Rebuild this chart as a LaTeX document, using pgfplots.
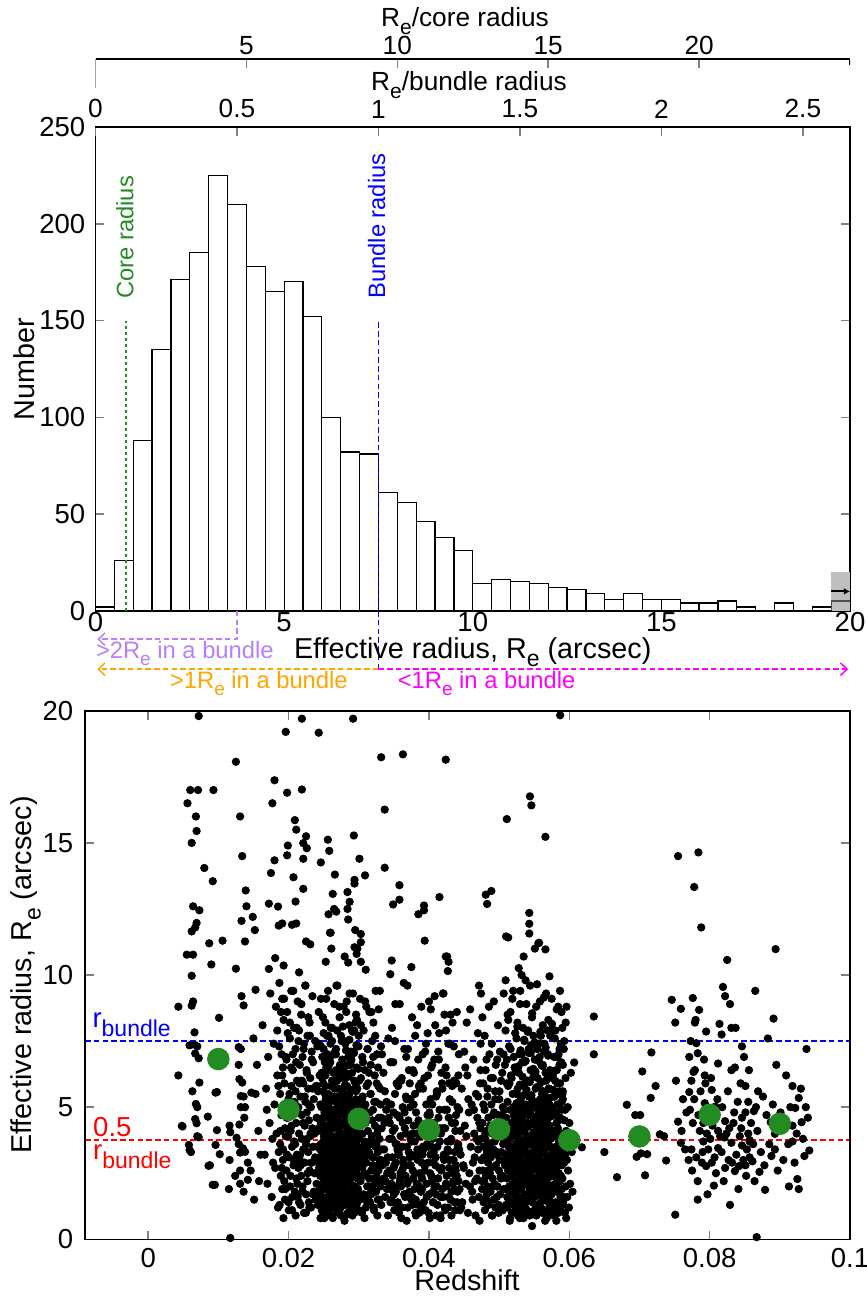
\documentclass[border=0pt]{standalone}
\usepackage{pgfplots}
\pgfplotsset{compat=1.18}
\usepackage{fontspec}
\setmainfont{Liberation Sans}
\usepackage{graphicx}
\usetikzlibrary{arrows.meta}

\definecolor{coregreen}{RGB}{34,139,34}
\definecolor{lilac}{RGB}{180,128,255}
\definecolor{orng}{RGB}{255,165,0}
\definecolor{mgnt}{RGB}{255,0,255}
\definecolor{pblue}{RGB}{0,0,255}
\definecolor{pred}{RGB}{255,0,0}
\newcommand{\fs}[1]{\fontsize{#1}{#1}\selectfont}
\newcommand{\sub}[1]{\raisebox{-0.3em}{\scalebox{0.8}{#1}}}

\tikzset{dsh/.style={line width=0.6pt, dash pattern=on 2.2pt off 1.3pt}}
\pgfplotsset{
  gp/.style={
    scale only axis,
    tick align=inside,
    major tick length=3.5pt,
    axis line style={line width=0.6pt},
    major tick style={line width=0.6pt},
    /pgf/number format/assume math mode=true,
    tick label style={font=\fs{11}},
  },
  gal/.style={only marks, mark=*, mark size=1.45pt, black},
}

\begin{document}
\begin{tikzpicture}[x=1pt,y=1pt]
\useasboundingbox (0pt,0pt) rectangle (346.8pt,-518.4pt);

% ---------------- histogram ----------------
\begin{axis}[gp,
  at={(38.2pt,-244.3pt)}, anchor=south west,
  width=301.8pt, height=193.5pt,
  xmin=0, xmax=20, ymin=0, ymax=250,
  xtick={0,5,10,15,20}, ytick={0,50,100,150,200,250},
  xtick pos=bottom,
  xticklabel style={yshift=2.9pt},
  yticklabel style={xshift=-0.6pt},
  clip=false,
]
\addplot[ybar interval, fill=white, draw=black, line width=0.5pt] coordinates {
  (0,2) (0.5,26) (1,88) (1.5,135) (2,171) (2.5,185) (3,225) (3.5,210)
  (4,178) (4.5,165) (5,170) (5.5,152) (6,100) (6.5,82) (7,81) (7.5,61)
  (8,56) (8.5,46) (9,38) (9.5,31) (10,14) (10.5,16) (11,15) (11.5,14)
  (12,12) (12.5,11) (13,9) (13.5,6) (14,9) (14.5,6) (15,6) (15.5,4)
  (16,4) (16.5,5) (17,2) (17.5,0) (18,4) (18.5,0) (19,2) (19.5,5) (20,5)
};
% overflow bin
\addplot[fill=black!25, draw=none] coordinates {(19.5,20) (20,20)} \closedcycle;
\addplot[draw=black!70, line width=0.5pt] coordinates {(19.5,0) (19.5,5) (20,5)};
\addplot[black, line width=0.8pt, -{Latex[length=2.5pt,width=2.8pt]}] coordinates {(19.5,10) (20,10)};

\addplot[coregreen, line width=0.75pt, dash pattern=on 1pt off 1.4pt] coordinates {(0.8,0) (0.8,150)};
\addplot[pblue, dsh] coordinates {(7.5,-30.2) (7.5,150)};
\node[rotate=90, anchor=west, inner sep=0pt, coregreen, font=\fs{9.5}] at (axis cs:0.78,161) {Core radius};
\node[rotate=90, anchor=west, inner sep=0pt, pblue, font=\fs{9.5}] at (axis cs:7.45,161) {Bundle radius};

\draw[lilac, dsh, -{Straight Barb[length=2.6pt,width=5pt]}] (axis cs:3.75,0) -- (axis cs:3.75,-14.7) -- (axis cs:0.05,-14.7);
\draw[orng, dsh, -{Straight Barb[length=2.6pt,width=5pt]}] (axis cs:7.5,-30.2) -- (axis cs:0.05,-30.2);
\draw[mgnt, dsh, -{Straight Barb[length=2.6pt,width=5pt]}] (axis cs:7.5,-30.2) -- (axis cs:19.95,-30.2);
\node[lilac, anchor=base west, inner sep=0pt, font=\fs{9.5}] at (axis cs:0,-24.6) {>2R\sub{e} in a bundle};
\node[anchor=base, inner sep=0pt, font=\fs{11.5}] at (axis cs:10,-24.6) {Effective radius, R\sub{e} (arcsec)};
\node[orng, anchor=base, inner sep=0pt, font=\fs{9.5}] at (axis cs:4.33,-40.1) {>1R\sub{e} in a bundle};
\node[mgnt, anchor=base west, inner sep=0pt, font=\fs{9.5}] at (axis cs:8.0,-40.1) {<1R\sub{e} in a bundle};
\end{axis}

% R_e / bundle radius axis
\begin{axis}[gp,
  at={(38.2pt,-244.3pt)}, anchor=south west,
  width=301.8pt, height=193.5pt,
  xmin=0, xmax=2.666667, ymin=0, ymax=1,
  axis x line*=top, axis y line=none,
  xtick={0,0.5,1,1.5,2,2.5},
  tick label style={font=\fs{10.5}},
]
\addplot[draw=none] coordinates {(1,0.5)};
\end{axis}

% R_e / core radius axis
\begin{axis}[gp,
  at={(38.2pt,-23.6pt)}, anchor=north west,
  width=301.8pt, height=12pt,
  xmin=0, xmax=25, ymin=0, ymax=1,
  axis x line*=top, axis y line=none,
  xtick={5,10,15,20},
  tick label style={font=\fs{10.5}},
  xticklabel style={yshift=-1.8pt},
]
\addplot[draw=none] coordinates {(1,0.5)};
\draw[line width=0.6pt] (rel axis cs:0,1) -- ++(0pt,-11.6pt);
\draw[line width=0.6pt] (rel axis cs:1,1) -- ++(0pt,-2.5pt);
\end{axis}

\node[anchor=base, font=\fs{10.5}] at (186pt,-10.7pt) {R\sub{e}/core radius};
\node[anchor=base, font=\fs{10.5}] at (187.6pt,-36.3pt) {R\sub{e}/bundle radius};
\node[rotate=90, anchor=base, font=\fs{11.5}] at (13.8pt,-147.6pt) {Number};

% ---------------- scatter ----------------
\begin{axis}[gp,
  at={(34pt,-495.7pt)}, anchor=south west,
  width=306pt, height=211.4pt,
  xmin=-0.009, xmax=0.1, ymin=0, ymax=20,
  xtick={0,0.02,0.04,0.06,0.08,0.1}, ytick={0,5,10,15,20},
  scaled x ticks=false,
  xticklabel style={/pgf/number format/fixed, /pgf/number format/precision=2},
  yticklabel style={xshift=-1.2pt},
  axis on top,
]
% galaxies above 10 arcsec
\addplot[gal] coordinates {
(0.0072,19.8)(0.0056,16.5)(0.0060,17.0)(0.0071,17.0)(0.0093,17.0)(0.0068,16.0)(0.0069,15.45)(0.0062,15.0)
(0.0080,14.05)(0.0092,13.55)(0.0064,12.6)(0.0073,12.45)(0.0069,11.97)(0.0067,11.8)(0.0062,11.65)(0.0087,11.2)
(0.0106,11.3)(0.0055,10.77)(0.0064,10.77)(0.0090,10.4)(0.0125,18.07)(0.0131,16.0)(0.0134,14.5)(0.0139,13.2)
(0.0140,12.6)(0.0133,12.05)(0.0149,12.2)(0.0138,11.27)(0.0152,11.7)(0.0125,10.24)(0.0172,12.7)(0.0180,17.37)
(0.0177,16.5)(0.0175,13.86)(0.0180,14.34)(0.0185,12.59)(0.0186,11.87)(0.0191,11.95)(0.0181,10.64)(0.0193,10.36)
(0.0172,10.23)(0.0196,19.2)(0.0198,16.9)(0.0198,14.53)(0.0199,14.9)(0.0207,13.7)(0.0209,15.86)(0.0211,15.5)
(0.0210,12.78)(0.0205,11.9)(0.0211,11.95)(0.0215,10.1)(0.0219,19.7)(0.0219,17.02)(0.0225,15.25)(0.0221,14.99)
(0.0226,14.8)(0.0221,14.4)(0.0221,13.26)(0.0225,11.27)(0.0231,11.16)(0.0243,19.17)(0.0246,14.26)(0.0256,15.12)
(0.0258,14.7)(0.0266,13.8)(0.0263,13.07)(0.0265,12.5)(0.0268,12.4)(0.0257,12.3)(0.0259,11.6)(0.0260,11.6)
(0.0261,11.0)(0.0253,10.5)(0.0292,19.7)(0.0293,15.28)(0.0284,13.14)(0.0287,12.77)(0.0284,12.5)(0.0285,12.1)
(0.0294,13.6)(0.0294,13.46)(0.0309,13.77)(0.0301,14.4)(0.0295,11.7)(0.0303,11.55)(0.0303,11.24)(0.0294,11.05)
(0.0298,11.0)(0.0297,10.8)(0.0303,10.5)(0.0285,10.47)(0.0280,10.7)(0.0310,10.2)(0.0332,18.24)(0.0337,16.26)
(0.0337,14.06)(0.0358,13.4)(0.0358,12.85)(0.0349,12.67)(0.0347,10.55)(0.0345,10.03)(0.0363,18.35)(0.0375,10.3)
(0.0385,12.3)(0.0393,12.63)(0.0393,12.45)(0.0394,11.3)(0.0424,18.15)(0.0415,12.95)(0.0424,10.7)(0.0587,19.83)
(0.0544,16.76)(0.0546,16.42)(0.0511,15.9)(0.0566,15.23)(0.0755,14.5)(0.0784,14.64)(0.0778,13.33)(0.0788,11.8)
(0.0894,10.98)(0.0825,10.57)(0.0481,13.04)(0.0489,13.18)(0.0483,12.69)(0.0543,12.35)(0.0543,11.94)(0.0543,11.57)
(0.0510,11.46)(0.0513,11.42)(0.0556,11.2)(0.0557,11.22)(0.0551,11.0)(0.0566,10.97)(0.0535,10.7)(0.0426,10.7)
(0.0428,10.5)(0.0427,10.15)(0.0528,10.26)(0.0532,10.0)
};
% low redshift, sparse
\addplot[gal] coordinates {
(0.0043,8.8)(0.0043,6.2)(0.0049,4.27)(0.0061,3.3)(0.0088,2.8)(0.0095,2.06)(0.0117,0.05)(0.0115,1.9)
(0.0062,9.97)(0.0062,8.84)(0.0064,9.0)(0.0101,8.38)(0.0153,9.44)(0.0133,9.2)(0.0136,8.85)(0.0066,7.83)
(0.0059,7.34)(0.0066,7.36)(0.0070,7.3)(0.0067,7.03)(0.0072,6.85)(0.0129,7.27)(0.0132,7.2)(0.0129,6.6)
(0.0073,5.93)(0.0096,5.55)(0.0098,5.57)(0.0130,6.06)(0.0134,5.93)(0.0068,5.12)(0.0070,5.0)(0.0147,5.55)
(0.0153,5.5)(0.0132,5.42)(0.0136,5.4)(0.0132,5.0)(0.0138,5.0)(0.0085,4.64)(0.0048,4.29)(0.0067,4.55)
(0.0069,4.39)(0.0070,3.9)(0.0072,3.86)(0.0098,4.13)(0.0116,4.3)(0.0117,4.05)(0.0130,4.34)(0.0137,4.6)
(0.0058,3.57)(0.0059,3.38)(0.0096,3.57)(0.0102,3.22)(0.0116,3.0)(0.0131,3.28)(0.0135,3.44)(0.0138,3.31)
(0.0086,2.78)(0.0142,2.9)(0.0146,2.6)(0.0131,2.6)(0.0092,2.06)(0.0136,1.8)(0.0131,2.1)(0.0142,2.25)
(0.0129,3.6)(0.0126,3.84)(0.0150,7.6)(0.0155,6.6)(0.0157,4.1)(0.0160,3.2)(0.0158,2.2)(0.0151,1.5)
(0.0124,2.4)(0.0063,5.6)
};
% z = 0.016 - 0.024
\addplot[gal] coordinates {
(0.0163,8.1)(0.0166,3.2)(0.0168,5.7)(0.0170,2.1)(0.0171,6.9)(0.0173,4.4)(0.0174,9.3)(0.0176,1.6)
(0.0177,3.8)(0.0179,7.4)(0.0180,5.1)(0.0181,2.7)(0.0182,8.8)(0.0183,4.0)(0.0184,6.2)(0.0185,1.2)
(0.0186,3.3)(0.0187,9.7)(0.0188,5.5)(0.0189,2.4)(0.0190,7.0)(0.0190,4.7)(0.0191,1.9)(0.0192,6.5)
(0.0192,3.0)(0.0193,8.3)(0.0194,2.2)(0.0194,5.9)(0.0195,4.2)(0.0195,1.5)(0.0178,2.9)(0.0169,4.9)
(0.0184,7.9)(0.0188,3.6)(0.0191,9.1)
(0.0196,3.9)(0.0197,6.8)(0.0197,2.6)(0.0198,8.6)(0.0199,4.6)(0.0200,1.4)(0.0200,5.3)(0.0201,3.1)
(0.0202,7.6)(0.0202,2.0)(0.0203,4.1)(0.0204,9.4)(0.0204,5.8)(0.0205,3.5)(0.0205,1.1)(0.0206,6.4)
(0.0207,2.8)(0.0207,4.9)(0.0208,8.0)(0.0208,3.7)(0.0209,1.8)(0.0210,5.6)(0.0210,7.2)(0.0211,2.3)
(0.0211,4.4)(0.0212,6.0)(0.0212,3.2)(0.0213,9.0)(0.0213,1.6)(0.0214,5.0)(0.0214,2.7)(0.0215,7.9)
(0.0215,4.0)(0.0216,3.0)(0.0216,6.6)(0.0217,1.3)(0.0217,5.4)(0.0218,2.4)(0.0218,8.5)(0.0219,3.8)
(0.0219,4.7)(0.0220,6.9)(0.0220,2.0)(0.0221,5.9)(0.0221,3.4)(0.0222,1.0)(0.0222,7.4)(0.0223,4.3)
(0.0223,2.9)(0.0224,5.2)(0.0224,9.6)(0.0225,3.6)(0.0225,1.7)(0.0226,6.3)(0.0226,4.8)(0.0227,2.2)
(0.0227,7.7)(0.0228,3.3)(0.0228,5.7)(0.0229,1.4)(0.0229,4.5)(0.0230,8.2)(0.0230,2.6)(0.0231,6.1)
(0.0231,3.9)(0.0232,5.0)(0.0232,1.2)(0.0233,7.1)(0.0233,2.9)(0.0234,4.2)(0.0234,9.2)(0.0235,3.5)
(0.0235,6.7)(0.0236,1.8)(0.0236,5.3)(0.0237,2.5)(0.0237,4.0)(0.0238,7.5)(0.0238,3.1)(0.0239,5.8)
(0.0239,1.5)(0.0240,4.6)(0.0240,2.1)
(0.01855,5.8)(0.01866,7.3)(0.01873,1.3)(0.01884,4.1)(0.01892,8.6)(0.01903,2.7)(0.01911,6.2)(0.01922,3.4)
(0.01928,0.8)(0.01937,9.1)(0.01946,5.0)(0.01954,1.9)(0.01961,6.9)(0.01972,4.6)(0.01979,3.2)(0.01988,7.8)
(0.01996,3.9)(0.02004,1.1)(0.02013,5.5)(0.02019,8.2)(0.02027,2.4)(0.02036,6.5)(0.02044,4.3)(0.02052,1.6)
(0.02061,7.0)(0.02068,9.4)(0.02077,3.0)(0.02085,5.2)(0.02094,3.6)(0.02101,0.9)(0.02109,6.7)(0.02118,8.0)
(0.02126,2.1)(0.02134,4.8)(0.02142,7.5)(0.02149,1.4)(0.02158,5.9)(0.02166,3.2)(0.02174,2.8)(0.02183,8.9)
(0.02191,6.0)(0.02198,1.8)(0.02207,4.4)(0.02215,7.2)(0.02223,3.4)(0.02231,5.4)(0.02239,9.6)(0.02247,1.0)
(0.02256,6.4)(0.02263,3.8)(0.02272,2.5)(0.02281,8.4)(0.02288,5.1)(0.02297,1.2)(0.02305,7.7)(0.02314,4.0)
(0.02322,2.9)(0.02331,6.8)(0.02339,5.7)(0.02347,1.7)
};
% z = 0.024 - 0.0335
\addplot[gal] coordinates {
(0.02411,3.5)(0.02416,1.8)(0.02421,5.6)(0.02426,2.9)(0.02431,4.2)(0.02436,7.4)(0.02441,1.3)(0.02446,3.1)
(0.02450,2.4)(0.02453,5.1)(0.02457,1.7)(0.02455,3.0)(0.02460,3.6)(0.02463,7.3)(0.02467,2.9)(0.02465,1.9)
(0.02470,4.5)(0.02473,1.1)(0.02477,3.2)(0.02475,4.4)(0.02480,6.1)(0.02483,2.0)(0.02487,4.1)(0.02485,2.6)
(0.02490,8.4)(0.02493,3.0)(0.02497,1.5)(0.02495,5.9)(0.02500,5.6)(0.02503,2.6)(0.02507,3.9)(0.02505,1.4)
(0.02510,0.8)(0.02513,4.8)(0.02517,6.7)(0.02515,3.5)(0.02520,2.2)(0.02523,3.4)(0.02527,1.9)(0.02525,6.2)
(0.02530,5.3)(0.02533,2.7)(0.02537,9.1)(0.02535,4.9)(0.02540,4.3)(0.02543,1.3)(0.02547,3.7)(0.02545,1.1)
(0.02550,2.1)(0.02553,6.4)(0.02557,3.1)(0.02555,3.8)(0.02560,4.6)(0.02563,1.6)(0.02567,2.8)(0.02565,6.4)
(0.02570,7.7)(0.02573,3.5)(0.02577,5.0)(0.02575,2.4)(0.02580,1.0)(0.02583,2.5)(0.02587,4.0)(0.02585,1.9)
(0.02590,3.3)(0.02593,6.9)(0.02597,1.8)(0.02595,4.7)(0.02600,2.3)(0.02603,5.8)(0.02607,3.8)(0.02605,3.3)
(0.02610,0.9)(0.02613,4.4)(0.02617,2.9)(0.02615,5.4)(0.02620,8.0)(0.02623,3.0)(0.02627,1.4)(0.02625,2.0)
(0.02630,5.4)(0.02633,2.4)(0.02637,4.2)(0.02635,2.9)(0.02640,6.3)(0.02643,1.2)(0.02647,3.6)(0.02645,4.6)
(0.02650,2.7)(0.02653,4.9)(0.02657,1.7)(0.02655,1.3)(0.02660,3.2)(0.02663,7.1)(0.02667,2.0)(0.02665,3.6)
(0.02670,5.2)(0.02673,3.9)(0.02677,1.5)(0.02675,7.0)(0.02680,4.7)(0.02683,9.6)(0.02687,2.6)(0.02685,1.2)
(0.02690,3.4)(0.02693,6.0)(0.02697,1.9)(0.02695,4.3)(0.02700,2.2)(0.02703,4.5)(0.02707,3.1)(0.02705,1.8)
(0.02710,5.7)(0.02713,1.1)(0.02717,3.5)(0.02715,2.5)(0.02720,2.8)(0.02723,8.8)(0.02727,4.1)(0.02725,5.1)
(0.02730,1.6)(0.02733,6.6)(0.02737,2.3)(0.02735,3.9)(0.02740,3.7)(0.02743,5.0)(0.02747,1.3)(0.02745,0.9)
(0.02750,4.3)(0.02753,2.5)(0.02757,7.5)(0.02755,1.6)(0.02760,3.0)(0.02763,1.8)(0.02767,4.8)(0.02765,2.3)
(0.02770,2.1)(0.02773,5.5)(0.02777,3.3)(0.02775,6.1)(0.02780,6.2)(0.02783,2.6)(0.02787,5.3)(0.02785,3.4)
(0.02790,1.9)(0.02793,3.8)(0.02797,7.5)(0.02795,1.5)(0.02800,3.1)(0.02803,4.7)(0.02807,1.3)(0.02805,2.4)
(0.02810,3.4)(0.02813,6.3)(0.02817,2.2)(0.02815,5.2)(0.02820,4.3)(0.02823,8.6)(0.02827,3.2)(0.02825,1.8)
(0.02830,1.7)(0.02833,5.8)(0.02837,2.8)(0.02835,4.2)(0.02840,4.1)(0.02843,1.0)(0.02847,5.0)(0.02845,3.0)
(0.02850,6.9)(0.02853,2.4)(0.02857,3.6)(0.02855,1.5)(0.02860,2.1)(0.02863,5.5)(0.02867,2.9)(0.02865,4.2)
(0.02870,9.3)(0.02873,4.5)(0.02877,1.5)(0.02875,3.2)(0.02880,3.9)(0.02883,2.3)(0.02887,6.6)(0.02885,1.2)
(0.02890,3.3)(0.02893,4.8)(0.02897,1.8)(0.02895,6.8)(0.02900,3.0)(0.02903,7.9)(0.02907,3.7)(0.02905,2.0)
(0.02910,5.2)(0.02913,1.2)(0.02917,2.7)(0.02915,3.9)(0.02920,4.2)(0.02923,3.5)(0.02927,7.1)(0.02925,1.4)
(0.02930,2.0)(0.02933,2.5)(0.02937,6.0)(0.02935,4.3)(0.02940,4.0)(0.02943,1.1)(0.02947,4.6)(0.02945,3.0)
(0.02950,3.1)(0.02953,8.2)(0.02957,5.3)(0.02955,1.7)(0.02960,1.6)(0.02963,5.6)(0.02967,2.6)(0.02965,4.1)
(0.02970,4.4)(0.02973,6.5)(0.02977,1.4)(0.02975,2.9)(0.02980,3.8)(0.02983,2.9)(0.02987,5.1)(0.02985,1.9)
(0.02990,1.9)(0.02993,3.4)(0.02997,7.3)(0.02995,4.6)
(0.03001,2.4)(0.03006,6.0)(0.03011,3.8)(0.03016,1.5)(0.03021,4.7)(0.03026,2.2)(0.03031,8.1)(0.03036,3.3)
(0.03041,5.3)(0.03046,1.0)(0.03051,2.7)(0.03056,4.0)(0.03061,6.7)(0.03066,3.0)(0.03071,1.7)(0.03076,5.0)
(0.03081,2.5)(0.03086,3.7)(0.03091,9.0)(0.03096,4.4)(0.03101,1.2)(0.03106,2.9)(0.03111,5.8)(0.03116,3.4)
(0.03121,2.0)(0.03126,7.2)(0.03131,4.1)(0.03136,1.6)(0.03141,3.2)(0.03146,6.3)(0.03151,2.3)(0.03156,4.8)
(0.03161,1.4)(0.03166,3.6)(0.03171,5.5)(0.03176,2.6)(0.03181,8.6)(0.03186,3.9)(0.03191,1.9)(0.03196,4.5)
(0.03201,2.8)(0.03206,6.9)(0.03211,3.1)(0.03216,1.1)(0.03221,5.2)(0.03226,2.1)(0.03231,4.3)(0.03236,7.7)
(0.03241,3.5)(0.03246,1.8)(0.03251,2.4)(0.03256,5.9)(0.03261,4.0)(0.03266,0.9)(0.03271,3.3)(0.03276,6.5)
(0.03281,2.6)(0.03286,4.6)(0.03291,1.5)(0.03296,3.8)(0.03301,9.4)(0.03306,2.2)(0.03311,5.1)(0.03316,3.0)
(0.03321,1.3)(0.03326,4.2)(0.03331,7.0)(0.03336,2.8)
(0.02405,5.8)(0.02411,7.3)(0.02417,1.3)(0.02424,4.1)(0.02430,8.6)(0.02436,2.7)(0.02443,6.2)(0.02449,3.4)
(0.02455,0.8)(0.02462,9.1)(0.02468,5.0)(0.02474,1.9)(0.02481,6.9)(0.02487,4.6)(0.02493,3.2)(0.02500,7.8)
(0.02506,3.9)(0.02512,1.1)(0.02519,5.5)(0.02525,8.2)(0.02531,2.4)(0.02538,6.5)(0.02544,4.3)(0.02550,1.6)
(0.02557,7.0)(0.02563,9.4)(0.02569,3.0)(0.02576,5.2)(0.02582,3.6)(0.02588,0.9)(0.02595,6.7)(0.02601,8.0)
(0.02607,2.1)(0.02614,4.8)(0.02620,7.5)(0.02626,1.4)(0.02633,5.9)(0.02639,3.2)(0.02645,2.8)(0.02652,8.9)
(0.02658,6.0)(0.02664,1.8)(0.02671,4.4)(0.02677,7.2)(0.02683,3.4)(0.02690,5.4)(0.02696,9.6)(0.02702,1.0)
(0.02709,6.4)(0.02715,3.8)(0.02721,2.5)(0.02728,8.4)(0.02734,5.1)(0.02740,1.2)(0.02747,7.7)(0.02753,4.0)
(0.02759,2.9)(0.02766,6.8)(0.02772,5.7)(0.02778,1.7)(0.02785,8.8)(0.02791,3.5)(0.02797,0.7)(0.02804,6.1)
(0.02810,7.4)(0.02816,2.2)(0.02823,4.7)(0.02829,9.0)(0.02835,3.1)(0.02842,5.3)(0.02848,6.6)(0.02854,1.5)
(0.02861,3.3)(0.02867,8.1)(0.02873,2.6)(0.02880,5.6)(0.02886,7.1)(0.02892,1.9)(0.02899,4.2)(0.02905,6.3)
(0.02911,0.9)(0.02918,9.3)(0.02924,4.9)(0.02930,3.3)(0.02937,7.9)(0.02943,3.7)(0.02949,2.0)(0.02956,5.9)
(0.02962,8.5)(0.02968,1.3)(0.02975,8.3)(0.02981,5.7)(0.02987,2.3)(0.02994,3.5)(0.03000,7.7)(0.03006,1.1)
(0.03013,4.7)(0.03019,9.1)(0.03025,2.8)(0.03032,6.1)(0.03038,4.0)(0.03044,1.6)(0.03051,6.9)(0.03057,5.4)
(0.03063,3.5)(0.03070,7.9)(0.03076,3.1)(0.03082,0.8)(0.03089,6.4)(0.03095,5.1)(0.03101,2.4)(0.03108,8.8)
(0.03114,4.5)(0.03120,1.4)(0.03127,7.2)(0.03133,5.9)(0.03139,2.0)(0.03146,3.3)(0.03152,8.6)(0.03158,1.7)
(0.03165,5.5)(0.03171,6.6)(0.03177,1.7)(0.03184,3.8)(0.03190,7.5)(0.03196,3.1)(0.03203,4.9)(0.03209,8.2)
(0.03215,1.2)(0.03222,3.6)(0.03228,6.2)(0.03234,2.3)(0.03241,9.4)(0.03247,5.2)(0.03253,3.6)(0.03260,7.0)
(0.03266,4.2)(0.03272,1.5)(0.03279,5.8)(0.03285,8.7)(0.03291,2.8)(0.03298,3.0)(0.03304,5.7)(0.03310,2.0)
(0.03317,7.3)(0.03323,4.6)(0.03329,3.4)
(0.02461,4.4)(0.02466,1.6)(0.02472,6.3)(0.02477,2.9)(0.02483,5.1)(0.02488,0.9)(0.02494,3.7)(0.02499,7.2)
(0.02505,2.2)(0.02510,4.9)(0.02516,1.3)(0.02521,5.8)(0.02527,3.1)(0.02532,6.9)(0.02538,2.5)(0.02543,4.1)
(0.02549,7.7)(0.02554,1.9)(0.02560,3.4)(0.02565,5.5)(0.02571,1.0)(0.02576,6.6)(0.02582,2.7)(0.02587,4.6)
(0.02593,3.9)(0.02598,7.4)(0.02604,1.5)(0.02609,5.3)(0.02615,2.3)(0.02620,6.0)(0.02626,3.5)(0.02631,0.8)
(0.02637,4.8)(0.02642,2.0)(0.02648,7.0)(0.02653,3.0)(0.02659,5.7)(0.02664,1.2)(0.02670,4.3)(0.02675,6.4)
(0.02681,2.6)(0.02686,3.8)(0.02692,7.9)(0.02697,1.7)(0.02703,5.0)(0.02708,2.4)(0.02714,6.2)(0.02719,3.3)
(0.02725,1.1)(0.02730,4.7)(0.02736,4.85)(0.02741,1.25)(0.02747,3.45)(0.02752,6.35)(0.02758,2.55)(0.02763,5.15)
(0.02769,1.85)(0.02774,8.05)(0.02780,3.95)(0.02785,2.75)(0.02791,6.55)(0.02796,4.45)(0.02802,1.35)(0.02807,5.85)
(0.02813,3.15)(0.02818,7.15)(0.02824,2.15)(0.02829,4.95)(0.02835,0.95)(0.02840,3.65)(0.02846,6.15)(0.02851,2.45)
(0.02857,5.45)(0.02862,1.65)(0.02868,7.55)(0.02873,4.05)(0.02879,4.75)(0.02884,2.85)(0.02890,6.75)(0.02895,1.15)
(0.02901,5.65)(0.02906,3.55)(0.02912,2.05)(0.02917,7.85)(0.02923,4.25)(0.02928,2.65)(0.02934,7.05)(0.02939,3.25)
(0.02945,5.95)(0.02950,1.45)(0.02956,5.05)(0.02961,2.35)(0.02967,7.35)(0.02972,3.85)(0.02978,1.05)(0.02983,5.25)
(0.02989,3.05)(0.02994,6.45)(0.03000,1.75)(0.03005,4.55)
};
% z = 0.0335 - 0.0445
\addplot[gal] coordinates {
(0.03352,6.3)(0.03357,2.3)(0.03362,3.4)(0.03367,4.4)(0.03372,5.6)(0.03377,1.6)(0.03382,2.2)(0.03387,2.9)
(0.03392,4.9)(0.03397,5.2)(0.03402,1.9)(0.03407,2.5)(0.03412,3.1)(0.03417,0.9)(0.03422,7.6)(0.03427,4.6)
(0.03432,2.6)(0.03437,3.8)(0.03442,4.4)(0.03447,1.9)(0.03452,1.4)(0.03457,6.7)(0.03462,5.1)(0.03467,1.5)
(0.03472,3.8)(0.03477,3.1)(0.03482,2.4)(0.03487,4.1)(0.03492,6.7)(0.03497,2.7)(0.03502,1.7)(0.03507,1.1)
(0.03512,4.2)(0.03517,5.5)(0.03522,8.9)(0.03527,3.6)(0.03532,2.9)(0.03537,2.0)(0.03542,3.6)(0.03547,4.7)
(0.03552,1.2)(0.03557,1.4)(0.03562,5.8)(0.03567,3.3)(0.03572,3.2)(0.03577,6.0)(0.03582,4.6)(0.03587,2.2)
(0.03592,2.3)(0.03597,3.9)(0.03602,2.0)(0.03607,0.8)(0.03612,6.1)(0.03617,2.6)(0.03622,3.5)(0.03627,5.0)
(0.03632,2.7)(0.03637,3.0)(0.03642,9.7)(0.03647,1.7)(0.03652,4.8)(0.03657,4.2)(0.03662,1.6)(0.03667,2.4)
(0.03672,4.0)(0.03677,6.9)(0.03682,5.3)(0.03687,3.5)(0.03692,2.1)(0.03697,1.2)(0.03702,7.2)(0.03707,4.5)
(0.03712,3.3)(0.03717,2.8)(0.03722,1.8)(0.03727,5.9)(0.03732,5.0)(0.03737,5.3)(0.03742,2.8)(0.03747,3.2)
(0.03752,3.7)(0.03757,1.6)(0.03762,1.3)(0.03767,4.0)(0.03772,6.4)(0.03777,2.3)(0.03782,4.3)(0.03787,6.3)
(0.03792,2.5)(0.03797,3.7)(0.03802,5.5)(0.03807,1.0)(0.03812,1.5)(0.03817,4.8)(0.03822,3.1)(0.03827,2.1)
(0.03832,8.1)(0.03837,3.4)(0.03842,3.0)(0.03847,1.3)(0.03852,4.5)(0.03857,5.8)(0.03862,1.0)(0.03867,2.5)
(0.03872,3.9)(0.03877,4.3)(0.03882,5.9)(0.03887,1.8)(0.03892,2.4)(0.03897,2.9)(0.03902,1.9)(0.03907,3.2)
(0.03912,7.0)(0.03917,5.7)(0.03922,3.4)(0.03927,1.4)(0.03932,4.1)(0.03937,2.8)(0.03942,2.6)(0.03947,7.1)
(0.03952,1.1)(0.03957,4.3)(0.03962,5.1)(0.03967,2.1)(0.03972,3.6)(0.03977,3.9)(0.03982,7.8)(0.03987,6.2)
(0.03992,2.9)(0.03997,1.0)(0.04002,1.7)(0.04007,4.8)(0.04012,4.7)(0.04017,2.5)(0.04022,3.2)(0.04027,8.7)
(0.04032,6.5)(0.04037,3.5)(0.04042,2.2)(0.04047,5.1)(0.04052,3.8)(0.04057,1.8)(0.04062,1.4)(0.04067,2.9)
(0.04072,4.4)(0.04077,6.8)(0.04082,9.2)(0.04087,4.0)(0.04092,2.8)(0.04097,3.1)(0.04102,5.4)(0.04107,0.9)
(0.04112,2.0)(0.04117,5.5)(0.04122,3.5)(0.04127,2.3)(0.04132,2.3)(0.04137,4.6)(0.04142,6.8)(0.04147,7.8)
(0.04152,4.9)(0.04157,3.7)(0.04162,0.9)(0.04167,1.6)(0.04172,4.0)(0.04177,2.6)(0.04182,2.7)(0.04187,5.9)
(0.04192,5.7)(0.04197,4.2)(0.04202,1.6)(0.04207,9.3)(0.04212,3.1)(0.04217,3.0)(0.04222,8.5)(0.04227,1.2)
(0.04232,4.2)(0.04237,6.5)(0.04242,2.1)(0.04247,2.0)(0.04252,6.2)(0.04257,4.9)(0.04262,3.3)(0.04267,3.4)
(0.04272,1.2)(0.04277,7.4)(0.04282,4.6)(0.04287,2.7)(0.04292,3.0)(0.04297,5.3)(0.04302,7.4)(0.04307,1.5)
(0.04312,3.7)(0.04317,3.8)(0.04322,1.8)(0.04327,4.4)(0.04332,5.2)(0.04337,8.2)(0.04342,2.5)(0.04347,2.2)
(0.04352,3.0)(0.04357,6.0)(0.04362,1.9)(0.04367,3.3)(0.04372,4.4)(0.04377,1.1)(0.04382,2.6)(0.04387,4.7)
(0.04392,5.9)(0.04397,2.4)(0.04402,1.4)(0.04407,5.0)(0.04412,3.5)(0.04417,3.6)(0.04422,2.2)(0.04427,7.0)
(0.04432,4.9)(0.04437,1.9)(0.04442,1.1)(0.04447,4.1)
(0.03452,6.7)(0.03463,2.1)(0.03474,8.0)(0.03485,1.4)(0.03496,4.8)(0.03507,2.8)(0.03518,7.5)(0.03529,1.8)
(0.03540,5.9)(0.03551,3.4)(0.03562,3.2)(0.03573,1.0)(0.03584,8.9)(0.03595,2.5)(0.03606,6.0)(0.03617,1.2)
(0.03628,4.4)(0.03639,2.9)(0.03650,7.2)(0.03661,1.7)(0.03672,5.4)(0.03683,0.7)(0.03694,9.6)(0.03705,2.2)
(0.03716,6.4)(0.03727,3.1)(0.03738,3.8)(0.03749,1.5)(0.03760,8.4)(0.03771,2.6)(0.03782,5.1)(0.03793,1.9)
(0.03804,7.7)(0.03815,0.9)(0.03826,4.0)(0.03837,3.3)(0.03848,6.8)(0.03859,2.0)(0.03870,5.7)(0.03881,1.3)
(0.03892,8.8)(0.03903,2.3)(0.03914,3.5)(0.03925,1.1)(0.03936,6.1)(0.03947,2.8)(0.03958,7.4)(0.03969,1.6)
(0.03980,4.7)(0.03991,3.5)(0.04002,9.0)(0.04013,0.8)(0.04024,5.3)(0.04035,2.4)(0.04046,6.6)(0.04057,1.4)
(0.04068,3.3)(0.04079,2.0)(0.04090,8.1)(0.04101,1.7)(0.04112,5.6)(0.04123,1.3)(0.04134,7.1)(0.04145,2.7)
(0.04156,4.2)(0.04167,0.8)(0.04178,6.3)(0.04189,1.9)(0.04200,9.3)(0.04211,3.2)(0.04222,4.9)(0.04233,1.1)
(0.04244,7.9)(0.04255,2.4)(0.04266,3.7)(0.04277,1.6)(0.04288,5.9)(0.04299,3.0)(0.04310,8.5)(0.04321,0.9)
(0.04332,5.8)(0.04343,2.1)(0.04354,7.3)(0.04365,1.4)(0.04376,4.1)(0.04387,2.8)(0.04398,8.6)(0.04409,1.8)
(0.04420,6.2)(0.04431,3.4)
};
% z = 0.0445 - 0.051
\addplot[gal] coordinates {
(0.04452,3.2)(0.04468,5.7)(0.04475,1.4)(0.04491,2.8)(0.04503,7.1)(0.04512,4.3)(0.04527,2.1)(0.04534,3.9)
(0.04548,6.2)(0.04556,1.0)(0.04569,4.8)(0.04577,2.5)(0.04588,8.7)(0.04596,3.5)(0.04609,5.1)(0.04617,1.8)
(0.04628,2.9)(0.04633,6.8)(0.04645,4.0)(0.04652,3.1)(0.04664,0.9)(0.04671,5.5)(0.04683,2.3)(0.04690,4.6)
(0.04698,7.8)(0.04706,3.7)(0.04713,1.6)(0.04721,2.6)(0.04728,5.9)(0.04734,4.2)(0.04742,9.3)(0.04748,3.0)
(0.04461,1.2)(0.04519,6.5)(0.04585,2.0)(0.04641,4.9)(0.04702,3.4)(0.04737,7.4)(0.04497,2.7)(0.04562,5.3)
(0.04623,1.5)(0.04677,3.8)(0.04718,4.4)(0.04539,8.2)(0.04659,2.2)
(0.04753,3.0)(0.04758,1.9)(0.04763,4.4)(0.04768,2.6)(0.04773,5.9)(0.04778,1.4)(0.04783,3.5)(0.04788,2.2)
(0.04793,4.9)(0.04798,1.1)(0.04803,3.8)(0.04808,6.4)(0.04813,2.4)(0.04818,4.1)(0.04823,1.7)(0.04828,3.3)
(0.04833,5.4)(0.04838,2.0)(0.04843,2.9)(0.04848,4.6)(0.04853,1.3)(0.04858,3.6)(0.04863,7.0)(0.04868,2.5)
(0.04873,4.3)(0.04878,1.8)(0.04883,3.1)(0.04888,5.1)(0.04893,2.7)(0.04898,0.9)(0.04903,4.0)(0.04908,2.3)
(0.04913,6.1)(0.04918,3.4)(0.04923,1.5)(0.04928,4.8)(0.04933,2.1)(0.04938,3.7)(0.04943,5.6)(0.04948,1.2)
(0.04953,2.8)(0.04958,4.2)(0.04963,3.2)(0.04968,1.6)(0.04973,6.8)(0.04978,2.0)(0.04983,3.9)(0.04988,4.7)
(0.04993,1.0)(0.04998,2.6)(0.05003,5.3)(0.05008,3.0)(0.05013,1.7)(0.05018,4.5)(0.05023,2.4)(0.05028,6.0)
(0.05033,3.3)(0.05038,1.1)(0.05043,4.7)(0.05048,2.4)(0.05053,5.0)(0.05058,3.6)(0.05063,7.0)(0.05068,1.9)
(0.05073,4.1)(0.05078,2.9)(0.05083,6.6)(0.05088,3.2)(0.05093,9.8)(0.05098,1.3)
(0.04703,5.4)(0.04714,9.6)(0.04722,0.7)(0.04735,6.4)(0.04741,3.8)(0.04756,2.2)(0.04762,8.4)(0.04775,5.1)
(0.04783,3.1)(0.04794,7.7)(0.04802,4.0)(0.04816,1.5)(0.04821,6.8)(0.04837,5.7)(0.04843,2.6)(0.04855,8.8)
(0.04864,3.5)(0.04876,1.9)(0.04881,6.1)(0.04897,7.4)(0.04904,0.9)(0.04913,4.7)(0.04925,9.0)(0.04932,3.3)
(0.04946,5.3)(0.04953,6.6)(0.04967,2.0)(0.04972,3.3)(0.04984,8.1)(0.04995,1.3)(0.05006,5.6)(0.05012,7.1)
(0.05027,2.3)(0.05033,4.2)(0.05045,6.3)(0.05054,1.1)(0.05066,9.3)(0.05071,4.9)(0.05085,2.8)(0.05092,7.9)
};
% z = 0.051 - 0.0605
\addplot[gal] coordinates {
(0.05101,1.9)(0.05104,4.6)(0.05108,3.0)(0.05111,6.8)(0.05114,2.3)(0.05118,1.2)(0.05121,5.2)(0.05124,3.7)
(0.05128,2.6)(0.05131,8.3)(0.05134,4.1)(0.05138,1.5)(0.05141,3.3)(0.05144,2.0)(0.05148,5.9)(0.05151,0.7)
(0.05154,3.8)(0.05158,2.7)(0.05161,4.9)(0.05164,7.2)(0.05168,1.7)(0.05171,3.1)(0.05174,2.4)(0.05178,6.1)
(0.05181,4.4)(0.05184,1.0)(0.05188,2.9)(0.05191,3.5)(0.05194,5.5)(0.05198,2.1)(0.05201,9.4)(0.05204,3.9)
(0.05208,1.4)(0.05211,4.7)(0.05214,2.5)(0.05218,3.2)(0.05221,6.5)(0.05224,1.8)(0.05228,4.2)(0.05231,2.8)
(0.05234,5.0)(0.05238,1.1)(0.05241,3.6)(0.05244,2.2)(0.05248,7.6)(0.05251,4.0)(0.05254,1.6)(0.05258,3.4)
(0.05261,2.6)(0.05264,5.7)(0.05268,0.9)(0.05271,4.5)(0.05274,3.0)(0.05278,2.0)(0.05281,6.3)(0.05284,1.3)
(0.05288,3.8)(0.05291,4.8)(0.05294,2.4)(0.05298,8.9)(0.05301,3.1)(0.05304,1.9)(0.05308,5.3)(0.05311,2.7)
(0.05314,4.1)(0.05318,1.5)(0.05321,3.5)(0.05324,7.0)(0.05328,2.2)(0.05331,4.6)(0.05334,1.2)(0.05338,3.2)
(0.05341,5.8)(0.05344,2.9)(0.05348,0.8)(0.05351,4.3)(0.05354,2.5)(0.05358,6.7)(0.05361,3.7)(0.05364,1.7)
(0.05368,4.9)(0.05371,2.1)(0.05374,3.3)(0.05378,9.8)(0.05381,1.4)(0.05384,5.1)(0.05388,2.8)(0.05391,3.9)
(0.05394,1.0)(0.05398,4.4)(0.05401,6.0)(0.05404,2.3)(0.05408,3.6)(0.05411,1.6)(0.05414,7.9)(0.05418,3.0)
(0.05421,4.7)(0.05424,2.6)(0.05428,1.8)(0.05431,5.4)
(0.05441,2.15)(0.05444,4.85)(0.05448,3.25)(0.05451,7.05)(0.05454,2.55)(0.05458,1.45)(0.05461,5.45)(0.05464,3.95)
(0.05468,2.85)(0.05471,8.55)(0.05474,4.35)(0.05478,1.75)(0.05481,3.55)(0.05484,2.25)(0.05488,6.15)(0.05491,0.95)
(0.05494,4.05)(0.05498,2.95)(0.05501,5.15)(0.05504,7.45)(0.05508,1.95)(0.05511,3.35)(0.05514,2.65)(0.05518,6.35)
(0.05521,4.65)(0.05524,1.25)(0.05528,3.15)(0.05531,3.75)(0.05534,5.75)(0.05538,2.35)(0.05541,9.65)(0.05544,4.15)
(0.05548,1.65)(0.05551,4.95)(0.05554,2.75)(0.05558,3.45)(0.05561,6.75)(0.05564,2.05)(0.05568,4.45)(0.05571,3.05)
(0.05574,5.25)(0.05578,1.35)(0.05581,3.85)(0.05584,2.45)(0.05588,7.85)(0.05591,4.25)(0.05594,1.85)(0.05598,3.65)
(0.05601,2.85)(0.05604,5.95)(0.05608,1.15)(0.05611,4.75)(0.05614,3.25)(0.05618,2.25)(0.05621,6.55)(0.05624,1.55)
(0.05628,4.05)(0.05631,5.05)(0.05634,2.65)(0.05638,9.15)(0.05641,3.35)(0.05644,2.15)(0.05648,5.55)(0.05651,2.95)
(0.05654,4.35)(0.05658,1.75)(0.05661,3.75)(0.05664,7.25)(0.05668,2.45)(0.05671,4.85)(0.05674,1.45)(0.05678,3.45)
(0.05681,6.05)(0.05684,3.15)(0.05688,1.05)(0.05691,4.55)(0.05694,2.75)(0.05698,6.95)(0.05701,3.95)(0.05704,1.95)
(0.05708,5.15)(0.05711,2.35)(0.05714,3.55)(0.05718,9.95)(0.05721,1.65)(0.05724,5.35)(0.05728,3.05)(0.05731,4.15)
(0.05734,1.25)(0.05738,4.65)(0.05741,6.25)(0.05744,2.55)(0.05748,3.85)(0.05751,1.85)(0.05754,8.15)(0.05758,3.25)
(0.05761,4.95)(0.05764,2.85)(0.05768,2.05)(0.05771,5.65)
(0.05781,2.7)(0.05784,5.4)(0.05788,2.0)(0.05791,3.9)(0.05794,7.6)(0.05798,3.2)(0.05801,4.8)(0.05804,1.4)
(0.05808,3.5)(0.05811,6.4)(0.05814,2.3)(0.05818,4.4)(0.05821,8.7)(0.05824,3.3)(0.05828,1.8)(0.05831,5.9)
(0.05834,2.9)(0.05838,4.2)(0.05841,1.1)(0.05844,5.1)(0.05848,7.0)(0.05851,2.5)(0.05854,3.7)(0.05858,2.2)
(0.05861,5.6)(0.05864,3.0)(0.05868,9.4)(0.05871,4.6)(0.05874,1.6)(0.05878,4.0)(0.05881,2.4)(0.05884,6.7)
(0.05888,3.4)(0.05891,4.9)(0.05894,1.9)(0.05898,3.1)(0.05901,8.0)(0.05904,3.8)(0.05908,5.3)(0.05911,1.3)
(0.05902,2.3)(0.05908,5.6)(0.05913,1.4)(0.05917,3.8)(0.05922,7.2)(0.05928,2.9)(0.05933,4.5)(0.05938,1.0)
(0.05942,3.2)(0.05947,6.1)(0.05951,2.0)(0.05956,4.1)(0.05961,8.8)(0.05966,3.0)(0.05972,1.6)(0.05978,5.0)
(0.05983,2.6)(0.05989,3.6)(0.05995,1.2)(0.06001,4.4)(0.06012,2.1)(0.06023,6.3)(0.06035,3.3)(0.06046,1.8)
(0.0547,0.5)
(0.05102,3.7)(0.05109,5.9)(0.05116,1.6)(0.05122,8.5)(0.05129,5.8)(0.05136,3.5)(0.05142,7.3)(0.05149,4.1)
(0.05156,0.8)(0.05162,8.6)(0.05169,6.2)(0.05176,2.4)(0.05182,3.4)(0.05189,9.1)(0.05196,1.4)(0.05202,5.0)
(0.05209,6.9)(0.05216,2.0)(0.05222,4.6)(0.05229,7.8)(0.05236,1.7)(0.05242,3.9)(0.05249,5.5)(0.05256,1.3)
(0.05262,8.2)(0.05269,6.5)(0.05276,2.7)(0.05282,4.3)(0.05289,7.0)(0.05296,0.8)(0.05302,9.4)(0.05309,5.2)
(0.05316,1.9)(0.05322,3.6)(0.05329,6.7)(0.05336,3.2)(0.05342,8.0)(0.05349,4.8)(0.05356,1.1)(0.05362,7.5)
(0.05369,5.9)(0.05376,2.4)(0.05382,3.2)(0.05389,8.9)(0.05396,1.6)(0.05402,6.0)(0.05409,4.4)(0.05416,3.0)
(0.05422,7.2)(0.05429,5.4)(0.05436,0.9)(0.05442,9.6)(0.05449,6.4)(0.05456,2.1)(0.05462,3.8)(0.05469,8.4)
(0.05476,1.4)(0.05482,5.1)(0.05489,7.7)(0.05496,2.8)(0.05502,4.0)(0.05509,6.8)(0.05516,1.8)(0.05522,5.7)
(0.05529,8.8)(0.05536,3.4)(0.05542,3.5)(0.05549,6.1)(0.05556,1.0)(0.05562,7.4)(0.05569,4.7)(0.05576,2.5)
(0.05582,9.0)(0.05589,5.3)(0.05596,1.2)(0.05602,6.6)(0.05609,3.3)(0.05616,2.9)(0.05622,8.1)(0.05629,5.6)
(0.05636,1.7)(0.05642,7.1)(0.05649,4.2)(0.05656,0.7)(0.05662,6.3)(0.05669,9.3)(0.05676,2.2)(0.05682,4.9)
(0.05689,7.9)(0.05696,3.1)(0.05702,8.3)(0.05709,5.7)(0.05716,1.5)(0.05722,3.5)(0.05729,7.7)(0.05736,2.6)
(0.05742,4.7)(0.05749,9.1)(0.05756,1.9)(0.05762,6.1)(0.05769,4.0)(0.05776,0.9)(0.05782,6.9)(0.05789,5.4)
(0.05796,3.3)(0.05802,7.9)(0.05809,3.1)(0.05816,2.0)(0.05822,6.4)(0.05829,5.1)(0.05836,1.3)(0.05842,8.8)
(0.05849,4.5)(0.05856,2.3)(0.05862,7.2)(0.05869,5.9)(0.05876,1.1)(0.05882,3.3)(0.05889,8.6)(0.05896,2.8)
(0.05902,5.5)(0.05909,6.6)(0.05916,1.6)(0.05922,3.8)(0.05929,7.5)(0.05936,3.5)(0.05942,4.9)(0.05949,8.2)
(0.05956,0.8)(0.05962,3.6)
(0.05221,4.85)(0.05226,1.25)(0.05232,3.45)(0.05238,6.35)(0.05243,2.55)(0.05249,5.15)(0.05255,1.85)(0.05260,8.05)
(0.05266,3.95)(0.05272,2.75)(0.05277,6.55)(0.05283,4.45)(0.05289,1.35)(0.05294,5.85)(0.05300,3.15)(0.05306,7.15)
(0.05311,2.15)(0.05317,4.95)(0.05323,0.95)(0.05328,3.65)(0.05334,6.15)(0.05340,2.45)(0.05345,5.45)(0.05351,1.65)
(0.05357,7.55)(0.05362,4.05)(0.05368,4.75)(0.05374,2.85)(0.05379,6.75)(0.05385,1.15)(0.05391,5.65)(0.05396,3.55)
(0.05402,2.05)(0.05408,7.85)(0.05413,4.25)(0.05419,2.65)(0.05425,7.05)(0.05430,3.25)(0.05436,5.95)(0.05442,1.45)
(0.05447,5.05)(0.05453,2.35)(0.05459,7.35)(0.05464,3.85)(0.05470,1.05)(0.05476,5.25)(0.05481,3.05)(0.05487,6.45)
(0.05493,1.75)(0.05498,4.55)(0.05504,4.4)(0.05510,1.6)(0.05515,6.3)(0.05521,2.9)(0.05527,5.1)(0.05532,0.9)
(0.05538,3.7)(0.05544,7.2)(0.05549,2.2)(0.05555,4.9)(0.05561,1.3)(0.05566,5.8)(0.05572,3.1)(0.05578,6.9)
(0.05583,2.5)(0.05589,4.1)(0.05595,7.7)(0.05600,1.9)(0.05606,3.4)(0.05612,5.5)(0.05617,1.0)(0.05623,6.6)
(0.05629,2.7)(0.05634,4.6)(0.05640,3.9)(0.05646,7.4)(0.05651,1.5)(0.05657,5.3)(0.05663,2.3)(0.05668,6.0)
(0.05674,3.5)(0.05680,0.8)(0.05685,4.8)(0.05691,2.0)(0.05697,7.0)(0.05702,3.0)(0.05708,5.7)(0.05714,1.2)
(0.05719,4.3)(0.05725,6.4)(0.05731,2.6)(0.05736,3.8)(0.05742,7.9)(0.05748,1.7)(0.05753,5.0)(0.05759,2.4)
(0.05765,6.2)(0.05770,3.3)(0.05776,1.1)(0.05782,4.7)(0.05787,4.1)(0.05793,1.3)(0.05799,6.0)(0.05804,2.6)
(0.05810,4.8)(0.05816,0.7)(0.05821,3.4)(0.05827,6.9)(0.05833,1.9)(0.05838,4.6)(0.05844,1.0)(0.05850,5.5)
(0.05855,2.8)(0.05861,6.6)(0.05867,2.2)(0.05872,3.8)(0.05878,7.4)(0.05884,1.6)(0.05889,3.1)(0.05895,5.2)
};
% z > 0.06
\addplot[gal] coordinates {
(0.0635,8.43)(0.0635,7.0)(0.0607,6.69)(0.0618,3.48)(0.0650,3.3)(0.0668,2.35)(0.0682,5.09)(0.0694,4.7)
(0.0701,4.7)(0.0717,7.07)(0.0704,6.35)(0.0723,5.8)(0.0716,5.35)(0.0696,3.12)(0.0702,3.25)(0.0711,3.22)
(0.0708,2.42)(0.0729,3.97)(0.0735,3.9)(0.0738,2.98)
(0.0746,9.06)(0.0759,8.72)(0.0776,9.13)(0.0785,8.68)(0.0780,8.3)(0.0779,8.2)(0.0751,8.2)(0.0795,7.86)
(0.0773,7.5)(0.0781,7.42)(0.0783,7.04)(0.0771,6.9)(0.0777,6.33)(0.0779,6.4)(0.0774,6.0)(0.0771,5.57)
(0.0752,6.0)(0.0793,6.2)(0.0803,5.65)(0.0808,5.02)(0.0794,5.9)(0.0814,8.15)(0.0817,7.75)(0.0819,9.55)
(0.0822,9.2)(0.0829,8.9)(0.0831,8.0)(0.0837,8.0)(0.0846,7.3)(0.0812,6.65)(0.0831,6.4)(0.0836,6.5)
(0.0856,6.4)(0.0844,5.9)(0.0851,5.8)(0.0865,9.4)(0.0891,8.35)(0.0883,7.6)(0.0895,6.6)(0.0938,7.2)
(0.0918,5.8)(0.0930,5.7)(0.0927,5.35)(0.0922,4.97)(0.0937,5.0)(0.0931,4.43)(0.0918,3.7)(0.0942,3.36)
(0.0935,3.15)(0.0925,2.28)(0.0913,2.0)(0.0927,1.9)(0.0879,1.87)(0.0806,2.03)(0.0783,2.2)(0.0751,0.93)
(0.0867,0.08)(0.0869,5.6)(0.0855,5.2)(0.0851,4.8)(0.0866,5.0)(0.0893,3.99)(0.0846,3.55)(0.0857,3.75)
(0.0857,3.1)(0.0842,2.77)(0.0852,2.4)(0.0871,2.55)(0.0836,2.58)(0.0822,2.7)(0.0807,3.1)(0.0803,2.9)
(0.0795,2.77)(0.0798,3.4)(0.0791,3.7)(0.0786,4.1)(0.0776,4.4)(0.0760,4.1)(0.0755,4.45)(0.0765,3.4)
(0.0759,3.65)(0.0774,3.4)(0.0812,4.1)(0.0822,4.47)(0.0828,4.2)(0.0835,4.8)(0.0846,4.6)(0.0821,3.85)
(0.0831,3.65)(0.0843,3.9)(0.0855,4.0)(0.0857,3.7)(0.0863,4.85)(0.0887,4.43)(0.0918,4.3)(0.0888,3.15)
(0.0893,3.4)(0.0861,2.95)(0.0851,2.8)(0.0817,3.3)(0.0812,3.45)(0.0806,4.85)(0.0793,5.15)(0.0799,4.5)
(0.0791,4.4)
(0.0762,5.3)(0.0767,4.8)(0.0770,3.0)(0.0772,4.9)(0.0775,2.6)(0.0778,5.3)(0.0781,3.1)(0.0784,4.7)
(0.0787,5.6)(0.0789,2.9)(0.0790,3.3)(0.0792,6.8)(0.0796,4.0)(0.0797,1.7)(0.0801,3.8)(0.0802,6.1)
(0.0804,4.3)(0.0809,2.5)(0.0811,5.3)(0.0815,3.9)(0.0818,5.0)(0.0820,2.2)(0.0824,4.0)(0.0826,5.6)
(0.0827,3.0)(0.0832,2.9)(0.0834,4.4)(0.0838,3.2)(0.0840,5.2)(0.0841,1.9)(0.0845,4.2)(0.0848,3.0)
(0.0849,6.9)(0.0853,3.4)(0.0859,4.4)(0.0862,3.6)(0.0864,2.2)(0.0868,4.1)(0.0873,3.3)(0.0876,5.4)
(0.0878,2.8)(0.0881,4.7)(0.0885,3.6)(0.0890,5.1)(0.0897,2.6)(0.0901,4.8)(0.0905,3.0)(0.0909,6.2)
(0.0912,3.6)(0.0915,5.0)(0.0921,2.9)(0.0924,4.0)(0.0933,3.8)(0.0940,4.6)(0.0783,1.5)(0.0829,1.3)
};

\addplot[pblue, dsh] coordinates {(-0.009,7.5) (0.1,7.5)};
\addplot[pred, dsh] coordinates {(-0.009,3.75) (0.1,3.75)};

% medians per redshift bin
\addplot[only marks, mark=*, mark size=4.3pt, coregreen, mark options={draw=coregreen, fill=coregreen}] coordinates {
(0.01,6.82)(0.02,4.9)(0.03,4.56)(0.04,4.14)(0.05,4.16)(0.06,3.75)(0.07,3.89)(0.08,4.71)(0.09,4.37)
};

\node[pblue, anchor=base west, inner sep=0pt, font=\fs{11}] at (axis cs:-0.0080,8.03) {r\raisebox{-3.6pt}{\fs{9.2}bundle}};
\node[pred, anchor=base west, inner sep=0pt, font=\fs{11}] at (axis cs:-0.0079,3.875) {0.5};
\node[pred, anchor=base west, inner sep=0pt, font=\fs{11}] at (axis cs:-0.0079,3.03) {r\raisebox{-3.6pt}{\fs{9.2}bundle}};
\end{axis}

\node[anchor=base, font=\fs{11.5}] at (186.8pt,-516pt) {Redshift};
\node[rotate=90, anchor=base, font=\fs{11.5}] at (12.8pt,-390pt) {Effective radius, R\sub{e} (arcsec)};
\end{tikzpicture}
\end{document}
